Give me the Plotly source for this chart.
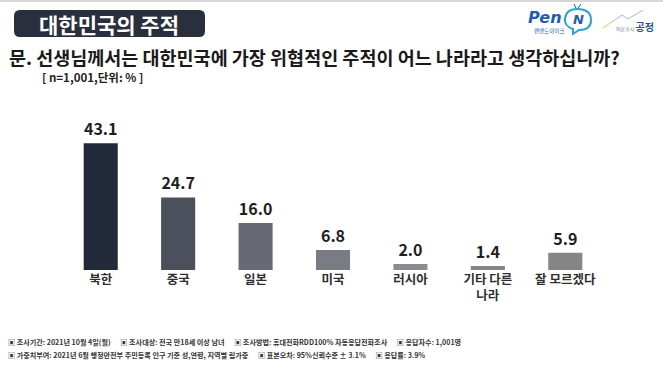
import plotly.graph_objects as go

categories = ["북한", "중국", "일본", "미국", "러시아", "기타 다른<br>나라", "잘 모르겠다"]
values = [43.1, 24.7, 16.0, 6.8, 2.0, 1.4, 5.9]
bar_colors = ["#222938", "#4c505c", "#676a75", "#7a7c85", "#8b8c91", "#858588", "#858585"]

title_box = "대한민국의 주적"
question = "문. 선생님께서는 대한민국에 가장 위협적인 주적이 어느 나라라고 생각하십니까?"
unit_note = "[ n=1,001,단위: % ]"
foot1 = ("▣ 조사기간: 2021년 10월 4일(월)      ▣ 조사대상: 전국 만18세 이상 남녀      "
         "▣ 조사방법: 휴대전화RDD100% 자동응답전화조사      ▣ 응답자수: 1,001명")
foot2 = ("▣ 가중치부여: 2021년 6월 행정안전부 주민등록 인구 기준 성,연령, 지역별 림가중      "
         "▣ 표본오차: 95%신뢰수준 ± 3.1%      ▣ 응답률: 3.9%")

FONT = "Noto Sans CJK KR"

fig = go.Figure(go.Bar(
    x=categories, y=values,
    marker=dict(color=bar_colors, line=dict(width=0)),
    width=0.44,
    text=[f"<b>{v:.1f}</b>" for v in values],
    textposition="outside",
    textfont=dict(family=FONT, size=16, color="#1e1e1e"),
    cliponaxis=False,
    hoverinfo="skip",
))

W, H = 663, 373
L, R, T, B = 62, 59, 123, 103
PW, PH = W - L - R, H - T - B

fig.update_layout(
    width=W, height=H,
    margin=dict(l=L, r=R, t=T, b=B, autoexpand=False),
    paper_bgcolor="white", plot_bgcolor="white",
    showlegend=False,
    font=dict(family=FONT),
)
fig.update_xaxes(showline=False, showgrid=False, zeroline=False, ticks="", automargin=False,
                 tickfont=dict(family=FONT, size=12.5, color="#2e2e2e"),
                 tickvals=categories, ticktext=[f"<b>{c}</b>".replace("<br>", "</b><br><b>") for c in categories])
fig.update_yaxes(range=[0, 50], visible=False, automargin=False)

def px(x): return (x - L) / PW
def py(y): return (H - y - B) / PH

x0, x1, y0, y1, r = 14, 205, 10, 37, 6
path = (f"M {px(x0+r)},{py(y0)} L {px(x1-r)},{py(y0)} Q {px(x1)},{py(y0)} {px(x1)},{py(y0+r)} "
        f"L {px(x1)},{py(y1-r)} Q {px(x1)},{py(y1)} {px(x1-r)},{py(y1)} L {px(x0+r)},{py(y1)} "
        f"Q {px(x0)},{py(y1)} {px(x0)},{py(y1-r)} L {px(x0)},{py(y0+r)} Q {px(x0)},{py(y0)} {px(x0+r)},{py(y0)} Z")
shapes = [
    dict(type="line", xref="paper", yref="paper", x0=px(0), x1=px(663), y0=py(1), y1=py(1),
         line=dict(color="#d6d6d6", width=2)),
    dict(type="path", xref="paper", yref="paper", path=path, fillcolor="#2a2f3d", line=dict(width=0)),
    # PenN logo bubble
    dict(type="path", xref="paper", yref="paper",
         path=(f"M {px(577)},{py(9)} Q {px(591)},{py(9)} {px(591)},{py(20)} Q {px(591)},{py(30)} {px(579)},{py(30)} "
               f"L {px(573)},{py(34)} L {px(573)},{py(29)} Q {px(564)},{py(26)} {px(565)},{py(19)} "
               f"Q {px(566)},{py(9)} {px(577)},{py(9)} Z"),
         fillcolor="white", line=dict(color="#2aa1d9", width=2)),
    dict(type="line", xref="paper", yref="paper", x0=px(576), x1=px(574), y0=py(8), y1=py(4),
         line=dict(color="#2a4fa0", width=1)),
    dict(type="line", xref="paper", yref="paper", x0=px(578), x1=px(581), y0=py(8), y1=py(4),
         line=dict(color="#2a4fa0", width=1)),
    # 공정 logo line
    dict(type="path", xref="paper", yref="paper",
         path=f"M {px(612)},{py(22)} L {px(622)},{py(15)} L {px(628)},{py(19)} L {px(643)},{py(10)}",
         line=dict(color="#a9b8c9", width=1)),
    dict(type="path", xref="paper", yref="paper",
         path=f"M {px(603)},{py(28)} L {px(613)},{py(21)}",
         line=dict(color="#e2c84a", width=1)),
]

ann = [
    dict(text=f"<b>{title_box}</b>", x=px(109), y=py(23.5), xanchor="center", yanchor="middle",
         font=dict(size=21, color="white", family=FONT)),
    dict(text=f"<b>{question}</b>", x=px(7), y=py(57), xanchor="left", yanchor="middle",
         font=dict(size=18.5, color="#1a1a1a", family=FONT)),
    dict(text=f"<b>{unit_note}</b>", x=px(40), y=py(77), xanchor="left", yanchor="middle",
         font=dict(size=11.5, color="#222222", family=FONT)),
    dict(text=f"<b>{foot1}</b>", x=px(6), y=py(342), xanchor="left", yanchor="middle",
         font=dict(size=7.1, color="#333333", family=FONT)),
    dict(text=f"<b>{foot2}</b>", x=px(6), y=py(355), xanchor="left", yanchor="middle",
         font=dict(size=7.1, color="#333333", family=FONT)),
    dict(text="<b><i>Pen</i></b>", x=px(564), y=py(17), xanchor="right", yanchor="middle",
         font=dict(size=16, color="#1f5db5", family="DejaVu Sans")),
    dict(text="<b><i>N</i></b>", x=px(578), y=py(19.5), xanchor="center", yanchor="middle",
         font=dict(size=13, color="#1f5db5", family="DejaVu Sans")),
    dict(text="펜앤드마이크", x=px(532), y=py(31), xanchor="left", yanchor="middle",
         font=dict(size=5.5, color="#1f5db5", family=FONT)),
    dict(text="여론조사 <b><span style='font-size:10px;color:#2a4fa0'>공정</span></b>",
         x=px(614), y=py(27), xanchor="left", yanchor="middle",
         font=dict(size=5, color="#7a8aa0", family=FONT)),
]
for a in ann:
    a.update(xref="paper", yref="paper", showarrow=False)

fig.update_layout(shapes=shapes, annotations=ann)
fig.write_html("out.html", config={"displayModeBar": False},
               post_script="document.body.style.margin='0';document.body.style.padding='0';")
